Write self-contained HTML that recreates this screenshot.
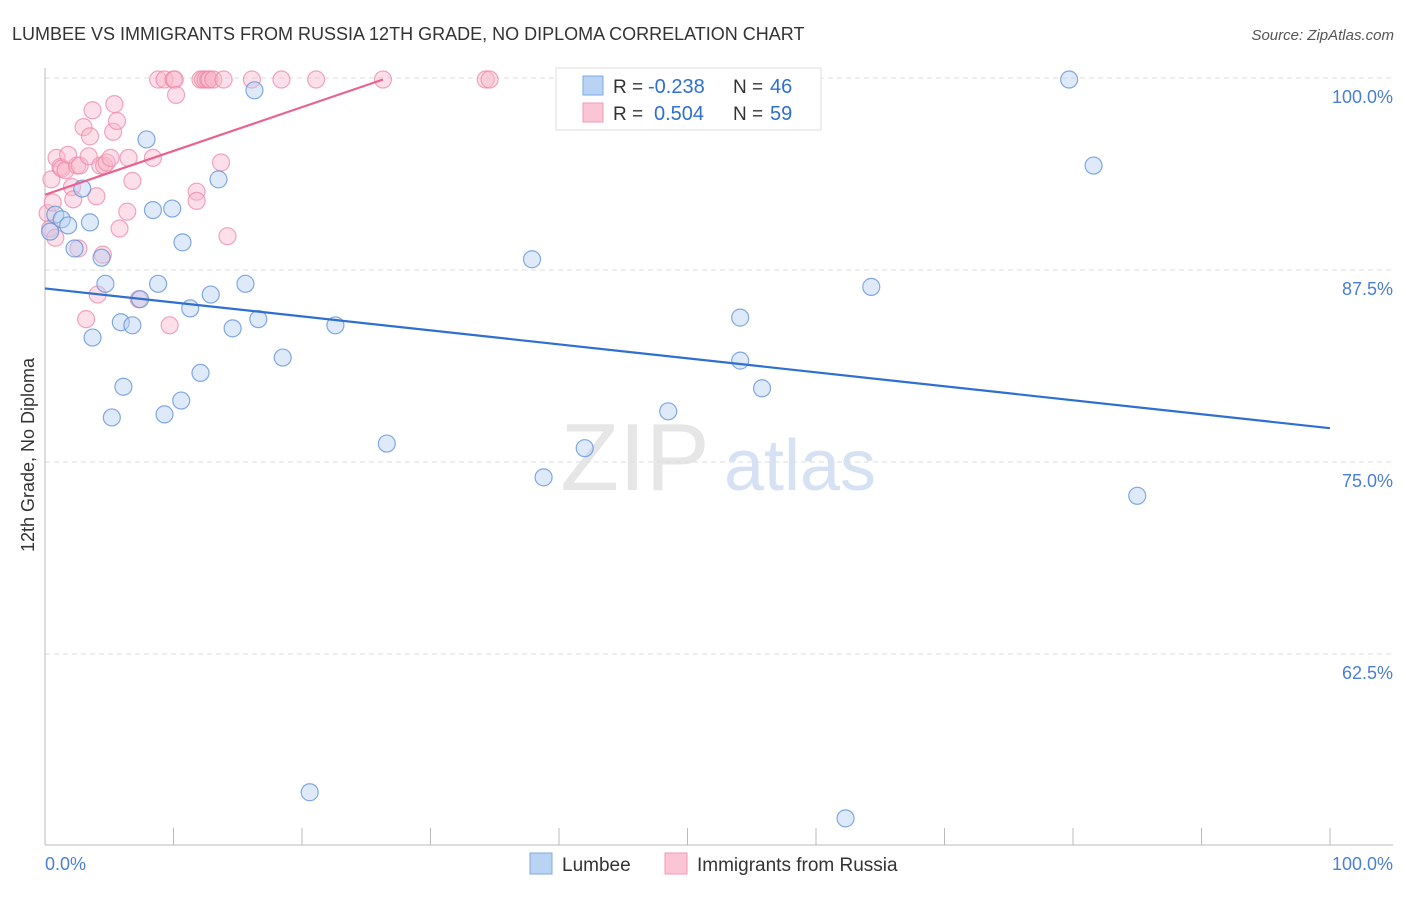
<!DOCTYPE html>
<html><head><meta charset="utf-8"><style>
body{margin:0;background:#fff;font-family:"Liberation Sans",sans-serif;}
svg text{font-family:"Liberation Sans",sans-serif;}
</style></head><body>
<svg width="1406" height="892" xmlns="http://www.w3.org/2000/svg">
<text x="12" y="40" font-size="18" fill="#333">LUMBEE VS IMMIGRANTS FROM RUSSIA 12TH GRADE, NO DIPLOMA CORRELATION CHART</text>
<text x="1394" y="40" font-size="15" fill="#555" text-anchor="end" font-style="italic">Source: ZipAtlas.com</text>
<g><text x="635" y="490" font-size="96" fill="#e6e6e6" text-anchor="middle" font-family="Liberation Serif">ZIP</text><text x="800" y="490" font-size="72" fill="#d6e2f3" text-anchor="middle">atlas</text></g>
<g id="grid"></g><g id="axes"></g><g id="marks"></g>
<text x="34" y="455" font-size="18" fill="#333" text-anchor="middle" transform="rotate(-90 34 455)">12th Grade, No Diploma</text>
<g>
<rect x="556" y="68" width="265" height="62" fill="#fff" stroke="#ddd"/>
<rect x="583" y="76" width="20" height="19" fill="#b9d3f5" stroke="#7ea8e3"/>
<rect x="583" y="103" width="20" height="19" fill="#fbc5d5" stroke="#f09ab5"/>
<text x="613" y="93" font-size="19" fill="#333">R =</text>
<text x="648" y="93" font-size="20" fill="#2f6fd0">-0.238</text>
<text x="733" y="93" font-size="19" fill="#333">N =</text>
<text x="770" y="93" font-size="20" fill="#2f6fd0">46</text>
<text x="613" y="120" font-size="19" fill="#333">R =</text>
<text x="654" y="120" font-size="20" fill="#2f6fd0">0.504</text>
<text x="733" y="120" font-size="19" fill="#333">N =</text>
<text x="770" y="120" font-size="20" fill="#2f6fd0">59</text>
</g>
<g>
<rect x="530" y="853" width="22" height="21" fill="#b9d3f5" stroke="#7ea8e3"/>
<text x="562" y="871" font-size="19" fill="#333">Lumbee</text>
<rect x="665" y="853" width="22" height="21" fill="#fbc5d5" stroke="#f09ab5"/>
<text x="697" y="871" font-size="19" fill="#333">Immigrants from Russia</text>
</g>
<text x="45" y="870" font-size="18" fill="#4a7fd6">0.0%</text>
<text x="1393" y="870" font-size="18" fill="#4a7fd6" text-anchor="end">100.0%</text>
</svg>
<script>
const blueX=[0.4,0.8,1.3,1.8,2.3,2.9,3.5,3.7,4.4,4.7,5.2,5.9,6.1,6.8,7.4,7.9,8.4,8.8,9.3,9.9,10.6,10.7,11.3,12.1,12.9,13.5,14.6,15.6,16.3,16.6,18.5,20.6,22.6,26.6,37.9,38.8,42.0,48.5,54.1,54.1,55.8,62.3,64.3,79.7,81.6,85.0];
const blueY=[90.0,91.1,90.8,90.4,88.9,92.8,90.6,83.1,88.3,86.6,77.9,84.1,79.9,83.9,85.6,96.0,91.4,86.6,78.1,91.5,79.0,89.3,85.0,80.8,85.9,93.4,83.7,86.6,99.2,84.3,81.8,53.5,83.9,76.2,88.2,74.0,75.9,78.3,84.4,81.6,79.8,51.8,86.4,99.9,94.3,72.8];
const pinkX=[0.2,0.4,0.5,0.6,0.8,0.9,1.2,1.3,1.6,1.8,2.1,2.2,2.5,2.6,2.7,3.0,3.2,3.4,3.5,3.7,4.0,4.1,4.3,4.5,4.6,4.8,5.1,5.3,5.4,5.6,5.8,6.4,6.5,6.8,7.3,8.4,8.8,9.3,9.7,10.0,10.1,10.2,11.8,11.8,12.1,12.3,12.5,12.7,12.8,13.1,13.7,13.9,14.2,16.1,18.4,21.1,26.3,34.3,34.6];
const pinkY=[91.2,90.2,93.4,91.9,89.6,94.8,94.2,94.1,94.0,95.0,92.9,92.1,94.3,88.9,94.3,96.8,84.3,94.9,96.2,97.9,92.3,85.9,94.3,88.5,94.3,94.5,94.8,96.5,98.3,97.2,90.2,91.3,94.8,93.3,85.6,94.8,99.9,99.9,83.9,99.9,99.9,98.9,92.6,92.0,99.9,99.9,99.9,99.9,99.9,99.9,94.5,99.9,89.7,99.9,99.9,99.9,99.9,99.9,99.9];
const blueTrend=[[0,86.3],[100,77.2]];
const pinkTrend=[[0,92.4],[26.3,99.9]];
const yTicks=[100,87.5,75,62.5];
const yTickLabels=["100.0%","87.5%","75.0%","62.5%"];
const xTicks=[0,10,20,30,40,50,60,70,80,90,100];
const NS="http://www.w3.org/2000/svg";
const X=v=>45+v*12.85, Y=v=>78+(100-v)/12.5*192;
function mk(p,t,a){const e=document.createElementNS(NS,t);for(const k in a)e.setAttribute(k,a[k]);p.appendChild(e);return e;}
const grid=document.getElementById('grid'),axes=document.getElementById('axes'),marks=document.getElementById('marks');
yTicks.forEach((t,i)=>{const l=mk(grid,'line',{x1:45,x2:1393,y1:Y(t),y2:Y(t),stroke:'#ddd','stroke-dasharray':'5,4'});


const tx=mk(grid,'text',{x:1393,y:Y(t)+25,'font-size':18,fill:'#4a7fd6','text-anchor':'end'});tx.textContent=yTickLabels[i];

});
const ax=mk(axes,'line',{x1:45,x2:45,y1:68,y2:845,stroke:'#bbb'});


const bx=mk(axes,'line',{x1:45,x2:1393,y1:845,y2:845,stroke:'#bbb'});


xTicks.forEach(t=>{const l=mk(axes,'line',{x1:X(t),x2:X(t),y1:828,y2:845,stroke:'#bbb'});

});
function pts(xs,ys,fill,stroke,name){xs.forEach((x,i)=>{const c=mk(marks,'circle',{cx:X(x),cy:Y(ys[i]),r:8.5,fill:fill,'fill-opacity':0.45,stroke:stroke,'stroke-width':1.2,'stroke-opacity':0.75});

});}
pts(pinkX,pinkY,'#f9b8cb','#ee8aa9','russia-point');
pts(blueX,blueY,'#b5cff2','#5b8fd9','lumbee-point');
const bl=mk(marks,'line',{x1:X(blueTrend[0][0]),y1:Y(blueTrend[0][1]),x2:X(blueTrend[1][0]),y2:Y(blueTrend[1][1]),stroke:'#2f6fd0','stroke-width':2.2});


const pl=mk(marks,'line',{x1:X(pinkTrend[0][0]),y1:Y(pinkTrend[0][1]),x2:X(pinkTrend[1][0]),y2:Y(pinkTrend[1][1]),stroke:'#e8638e','stroke-width':2.2});


</script>
</body></html>
